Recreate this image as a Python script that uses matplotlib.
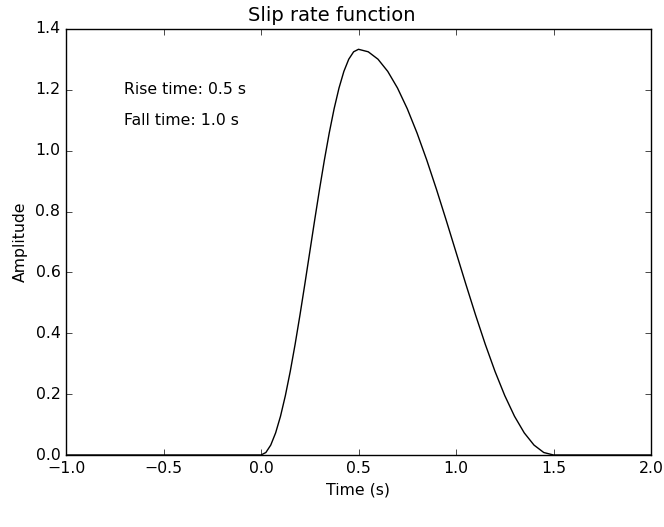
import matplotlib
matplotlib.use("Agg")
import matplotlib.pyplot as plt

plt.style.use("classic")

time_s = [-1.0, 0.0, 0.025, 0.05, 0.075, 0.10, 0.125, 0.15, 0.175, 0.20, 0.225, 0.25,
          0.275, 0.30, 0.325, 0.35, 0.375, 0.40, 0.425, 0.45, 0.475, 0.50,
          0.55, 0.60, 0.65, 0.70, 0.75, 0.80, 0.85, 0.90, 0.95, 1.00,
          1.05, 1.10, 1.15, 1.20, 1.25, 1.30, 1.35, 1.40, 1.45, 1.50, 2.0]
amplitude = [0.0, 0.0, 0.0082, 0.0326, 0.0727, 0.1273, 0.1953, 0.2748, 0.3640, 0.4607, 0.5624, 0.6667,
             0.7710, 0.8727, 0.9693, 1.0585, 1.1381, 1.2060, 1.2607, 1.3007, 1.3251, 1.3333,
             1.3251, 1.3007, 1.2607, 1.2060, 1.1381, 1.0585, 0.9693, 0.8727, 0.7710, 0.6667,
             0.5624, 0.4607, 0.3640, 0.2748, 0.1953, 0.1273, 0.0727, 0.0326, 0.0082, 0.0, 0.0]

annotations = ["Rise time: 0.5 s", "Fall time: 1.0 s"]

fig = plt.figure(figsize=(6.64, 5.27), dpi=100)
ax = fig.add_axes([66/664, 1-455/527, (651-66)/664, (455-29)/527])
ax.plot(time_s, amplitude, color="black", lw=1.0)
ax.set_xlim(-1.0, 2.0)
ax.set_ylim(0.0, 1.4)
fs = 11.3
ax.set_xlabel("Time (s)", fontsize=fs)
ax.set_ylabel("Amplitude", fontsize=fs)
fig.suptitle("Slip rate function", fontsize=14, x=0.5, y=1 - 6/527, va="top")
ax.tick_params(labelsize=fs)
ax.text(-0.7, 1.2, annotations[0], va="center", ha="left", fontsize=fs)
ax.text(-0.7, 1.1, annotations[1], va="center", ha="left", fontsize=fs)
fig.savefig("out.png", dpi=100)
